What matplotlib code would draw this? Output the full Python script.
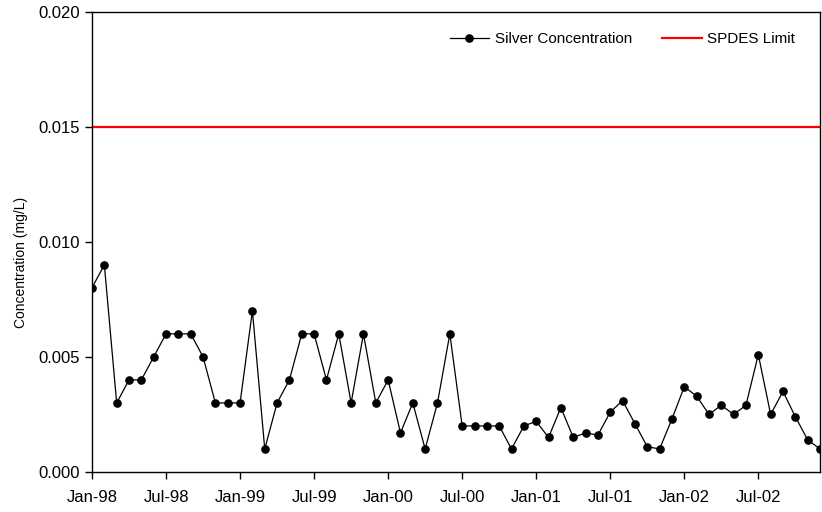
import numpy as np
import matplotlib
matplotlib.use("Agg")
import matplotlib.pyplot as plt

plt.rcParams['font.family'] = ['Liberation Sans', 'DejaVu Sans']

# monthly samples, Jan-98 .. Dec-02
months = ['Jan-98', 'Feb-98', 'Mar-98', 'Apr-98', 'May-98', 'Jun-98',
          'Jul-98', 'Aug-98', 'Sep-98', 'Oct-98', 'Nov-98', 'Dec-98',
          'Jan-99', 'Feb-99', 'Mar-99', 'Apr-99', 'May-99', 'Jun-99',
          'Jul-99', 'Aug-99', 'Sep-99', 'Oct-99', 'Nov-99', 'Dec-99',
          'Jan-00', 'Feb-00', 'Mar-00', 'Apr-00', 'May-00', 'Jun-00',
          'Jul-00', 'Aug-00', 'Sep-00', 'Oct-00', 'Nov-00', 'Dec-00',
          'Jan-01', 'Feb-01', 'Mar-01', 'Apr-01', 'May-01', 'Jun-01',
          'Jul-01', 'Aug-01', 'Sep-01', 'Oct-01', 'Nov-01', 'Dec-01',
          'Jan-02', 'Feb-02', 'Mar-02', 'Apr-02', 'May-02', 'Jun-02',
          'Jul-02', 'Aug-02', 'Sep-02', 'Oct-02', 'Nov-02', 'Dec-02']

silver = [0.008, 0.009, 0.003, 0.004, 0.004, 0.005,
          0.006, 0.006, 0.006, 0.005, 0.003, 0.003,
          0.003, 0.007, 0.001, 0.003, 0.004, 0.006,
          0.006, 0.004, 0.006, 0.003, 0.006, 0.003,
          0.004, 0.0017, 0.003, 0.001, 0.003, 0.006,
          0.002, 0.002, 0.002, 0.002, 0.001, 0.002,
          0.0022, 0.0015, 0.0028, 0.0015, 0.0017, 0.0016,
          0.0026, 0.0031, 0.0021, 0.0011, 0.001, 0.0023,
          0.0037, 0.0033, 0.0025, 0.0029, 0.0025, 0.0029,
          0.0051, 0.0025, 0.0035, 0.0024, 0.0014, 0.001]

spdes_limit = 0.015
tick_labels = months[::6]

x = np.arange(len(months))

fig = plt.figure(figsize=(8.22, 5.12), dpi=100)
ax = fig.add_axes([92 / 822, 40 / 512, 728 / 822, 460.5 / 512])

ax.plot(x, silver, color='black', linewidth=0.9, marker='o',
        markersize=5.2, label='Silver Concentration', zorder=3)
ax.axhline(spdes_limit, color='#ff0000', linewidth=1.6, label='SPDES Limit')

ax.set_xlim(0, len(months) - 1)
ax.set_ylim(0, 0.020)
ax.set_xticks(x[::6])
ax.set_xticklabels(tick_labels)
ax.set_yticks([0.0, 0.005, 0.010, 0.015, 0.020])
ax.set_yticklabels(['0.000', '0.005', '0.010', '0.015', '0.020'])
ax.tick_params(direction='out', length=5, width=1, labelsize=12, pad=4)
ax.tick_params(axis='x', pad=8)
for s in ax.spines.values():
    s.set_linewidth(1)

ax.set_ylabel('Concentration (mg/L)', fontsize=10)
ax.yaxis.set_label_coords(-0.088, 0.455)

ax.legend(loc='upper right', bbox_to_anchor=(0.985, 0.985), ncol=2,
          frameon=False, fontsize=11, handlelength=2.6, handletextpad=0.35,
          columnspacing=2.0)

fig.savefig('out.png', dpi=100)
